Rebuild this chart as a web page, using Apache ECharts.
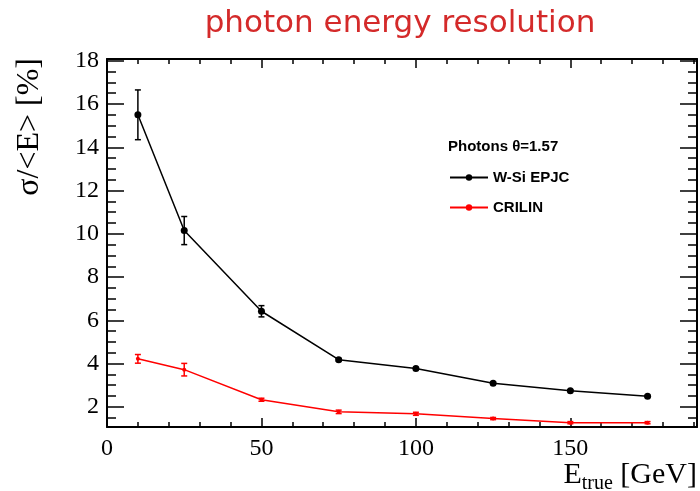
<!DOCTYPE html>
<html>
<head>
<meta charset="utf-8">
<script src="https://cdn.jsdelivr.net/npm/echarts@6/dist/echarts.min.js"></script>
<style>
  html, body { margin: 0; padding: 0; background: #fff; }
  #chart { width: 700px; height: 491px; }
</style>
</head>
<body>
<div id="chart"></div>
<script>
// beam energy [GeV]
const energies = [10, 25, 50, 75, 100, 125, 150, 175]
// W-Si EPJC resolution and its error [%]
const wsiRes = [15.5, 10.15, 6.42, 4.18, 3.77, 3.09, 2.75, 2.49]
const wsiErr = [1.15, 0.65, 0.26, 0.06, 0.05, 0.05, 0.04, 0.04]
// CRILIN resolution and its error [%]
const criRes = [4.22, 3.72, 2.33, 1.77, 1.68, 1.46, 1.27, 1.27]
const criErr = [0.2, 0.29, 0.07, 0.08, 0.07, 0.05, 0.05, 0.05]

// tick positions
const xMajorTicks = [0, 50, 100, 150]
const xMinorTicks = [10, 20, 30, 40, 60, 70, 80, 90, 110, 120, 130, 140, 160, 170, 180, 190]
const yMajorTicks = [2, 4, 6, 8, 10, 12, 14, 16, 18]
const yMinorTicks = [1.5, 2.5, 3, 3.5, 4.5, 5, 5.5, 6.5, 7, 7.5, 8.5, 9, 9.5, 10.5, 11, 11.5,
  12.5, 13, 13.5, 14.5, 15, 15.5, 16.5, 17, 17.5]

const X_MIN = 0, X_MAX = 191
const Y_MIN = 1.07, Y_MAX = 18.08
const serif = 'Liberation Serif'
const sans = 'Liberation Sans'

// one axis of the frame: ticks drawn inside, line only on the "major" copy
const axis = (position, min, max, ticks, len, withLine, labels) => ({
  type: 'value',
  position,
  min,
  max,
  axisLine: { show: withLine, onZero: false, lineStyle: { color: '#000', width: 2 } },
  axisTick: { show: true, inside: true, length: len, customValues: ticks, lineStyle: { color: '#000', width: 1.5 } },
  axisLabel: labels
    ? { show: true, customValues: labels, margin: position === 'bottom' ? 10 : 8, color: '#000', fontFamily: serif, fontSize: 24 }
    : { show: false },
  splitLine: { show: false }
})

const errorBars = (color) => (params, api) => {
  const x = api.value(0)
  const lo = api.coord([x, api.value(1)])
  const hi = api.coord([x, api.value(2)])
  const cap = 3
  const style = { stroke: color, lineWidth: 1.5 }
  return {
    type: 'group',
    children: [
      { type: 'line', shape: { x1: lo[0], y1: lo[1], x2: hi[0], y2: hi[1] }, style },
      { type: 'line', shape: { x1: lo[0] - cap, y1: lo[1], x2: lo[0] + cap, y2: lo[1] }, style },
      { type: 'line', shape: { x1: hi[0] - cap, y1: hi[1], x2: hi[0] + cap, y2: hi[1] }, style }
    ]
  }
}

const chart = echarts.init(document.getElementById('chart'))
chart.setOption({
  backgroundColor: '#fff',
  animation: false,
  grid: { left: 107, right: 3, top: 59, bottom: 64 },
  xAxis: [
    axis('bottom', X_MIN, X_MAX, xMajorTicks, 9, true, xMajorTicks),
    axis('bottom', X_MIN, X_MAX, xMinorTicks, 5, false),
    axis('top', X_MIN, X_MAX, xMajorTicks, 9, true),
    axis('top', X_MIN, X_MAX, xMinorTicks, 5, false)
  ],
  yAxis: [
    axis('left', Y_MIN, Y_MAX, yMajorTicks, 17, true, yMajorTicks),
    axis('left', Y_MIN, Y_MAX, yMinorTicks, 9, false),
    axis('right', Y_MIN, Y_MAX, yMajorTicks, 17, true),
    axis('right', Y_MIN, Y_MAX, yMinorTicks, 9, false)
  ],
  legend: {
    data: ['W-Si EPJC', 'CRILIN'],
    orient: 'vertical',
    left: 449,
    top: 170,
    padding: 0,
    itemWidth: 38,
    itemHeight: 8,
    itemGap: 15,
    textStyle: { color: '#000', fontFamily: sans, fontWeight: 'bold', fontSize: 15 }
  },
  graphic: [
    {
      type: 'text', x: 400, y: 24,
      style: { text: 'photon energy resolution', fill: '#d42a2a', fontFamily: 'DejaVu Sans', fontSize: 31, align: 'center', verticalAlign: 'middle' }
    },
    {
      type: 'text', x: 30, y: 58, rotation: Math.PI / 2,
      style: { text: 'σ/<E> [%]', fill: '#000', fontFamily: serif, fontSize: 32, align: 'right', verticalAlign: 'middle' }
    },
    {
      type: 'text', x: 697, y: 460,
      style: {
        text: '{m|E}{s|true}{m| [GeV]}',
        align: 'right',
        verticalAlign: 'top',
        rich: {
          m: { fontFamily: serif, fontSize: 30, lineHeight: 30, verticalAlign: 'top', fill: '#000' },
          s: { fontFamily: serif, fontSize: 20, lineHeight: 34, verticalAlign: 'bottom', fill: '#000' }
        }
      }
    },
    {
      type: 'text', x: 448, y: 147,
      style: { text: 'Photons θ=1.57', fill: '#000', fontFamily: sans, fontWeight: 'bold', fontSize: 15, verticalAlign: 'middle' }
    }
  ],
  series: [
    {
      name: 'W-Si EPJC error',
      type: 'custom',
      renderItem: errorBars('#000'),
      encode: { x: 0, y: [1, 2] },
      data: energies.map((e, i) => [e, wsiRes[i] - wsiErr[i], wsiRes[i] + wsiErr[i]]),
      z: 2
    },
    {
      name: 'CRILIN error',
      type: 'custom',
      renderItem: errorBars('#ff0000'),
      encode: { x: 0, y: [1, 2] },
      data: energies.map((e, i) => [e, criRes[i] - criErr[i], criRes[i] + criErr[i]]),
      z: 2
    },
    {
      name: 'W-Si EPJC',
      type: 'line',
      data: energies.map((e, i) => [e, wsiRes[i]]),
      symbol: 'circle',
      symbolSize: 7,
      color: '#000',
      itemStyle: { color: '#000' },
      lineStyle: { color: '#000', width: 1.5 },
      z: 3
    },
    {
      name: 'CRILIN',
      type: 'line',
      data: energies.map((e, i) => [e, criRes[i]]),
      symbol: 'circle',
      symbolSize: 4,
      color: '#ff0000',
      itemStyle: { color: '#ff0000' },
      lineStyle: { color: '#ff0000', width: 1.5 },
      z: 3
    }
  ]
})
</script>
</body>
</html>
